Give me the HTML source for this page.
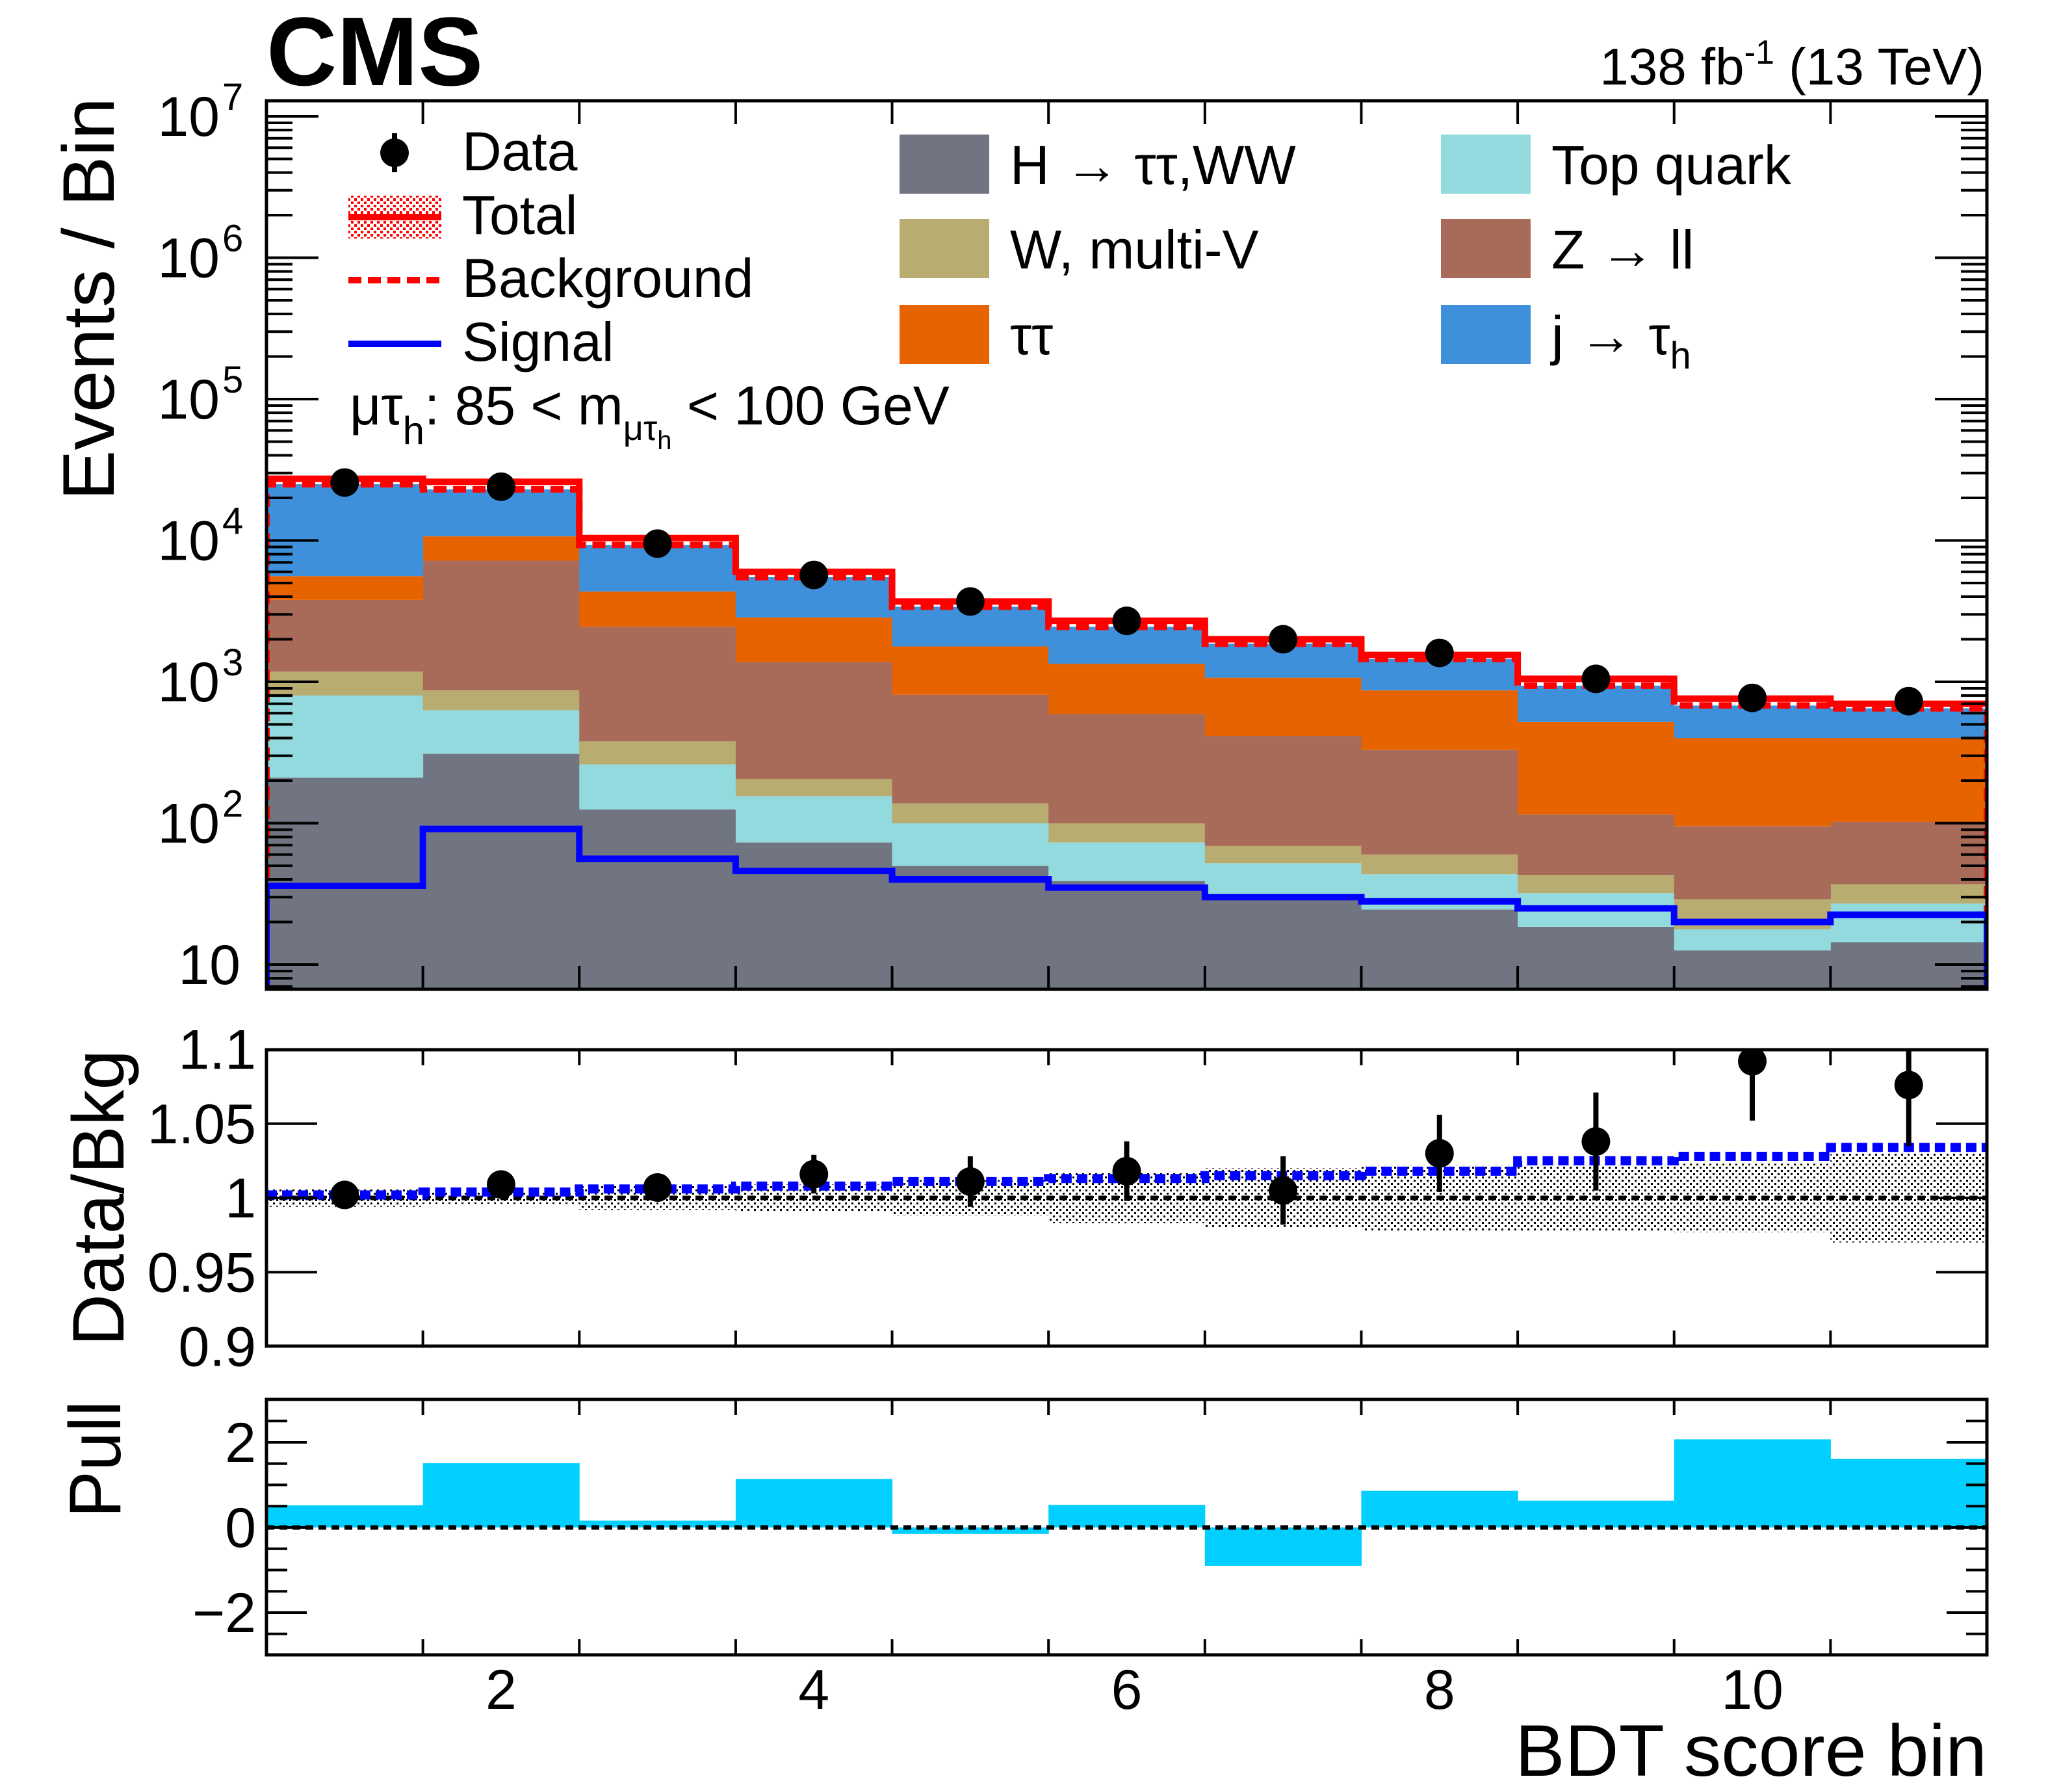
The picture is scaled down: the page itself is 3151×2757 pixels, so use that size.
<!DOCTYPE html>
<html><head><meta charset="utf-8"><style>
html,body{margin:0;padding:0;background:#fff}
svg{display:block;font-family:"Liberation Sans",Arial,sans-serif}
</style></head><body>
<svg id="c" width="3151" height="2757" viewBox="0 0 3151 2757" xmlns="http://www.w3.org/2000/svg">
<defs>
<pattern id="dots" width="10" height="10" patternUnits="userSpaceOnUse"><rect x="0" y="0" width="3" height="3" fill="#000"/><rect x="5" y="5" width="3" height="3" fill="#000"/></pattern>
<pattern id="rdots" width="10" height="10" patternUnits="userSpaceOnUse"><rect x="0" y="0" width="4" height="4" fill="#f00"/><rect x="5" y="5" width="4" height="4" fill="#f00"/></pattern>
<clipPath id="cm"><rect x="410" y="155" width="2647" height="1367"/></clipPath>
<clipPath id="cr"><rect x="410" y="1615" width="2647" height="456"/></clipPath>
<clipPath id="cp"><rect x="410" y="2153" width="2647" height="393"/></clipPath>
</defs>
<g id="main" clip-path="url(#cm)"></g>
<g id="ratio" clip-path="url(#cr)"></g>
<g id="pull" clip-path="url(#cp)"></g>
<g id="axes"></g>
<text x="410" y="131" font-size="150" font-weight="bold">CMS</text>
<text x="3053" y="130" font-size="80" text-anchor="end">138 fb<tspan dy="-32" font-size="52">-1</tspan><tspan dy="32"> (13 TeV)</tspan></text>
<text transform="translate(175,150) rotate(-90)" font-size="112" text-anchor="end" textLength="620" lengthAdjust="spacingAndGlyphs">Events / Bin</text>
<text transform="translate(190,2071) rotate(-90)" font-size="112" textLength="456" lengthAdjust="spacingAndGlyphs">Data/Bkg</text>
<text transform="translate(185,2335) rotate(-90)" font-size="112" textLength="180" lengthAdjust="spacingAndGlyphs">Pull</text>
<text x="3057" y="2732" font-size="112" text-anchor="end" textLength="726" lengthAdjust="spacingAndGlyphs">BDT score bin</text>
<g id="legend" font-size="84">
<g><line x1="607" y1="205" x2="607" y2="265" stroke="#000" stroke-width="8"/><circle cx="607" cy="235" r="22"/><text x="711" y="262">Data</text></g>
<g><rect x="536" y="301" width="143" height="66" fill="url(#rdots)"/><line x1="536" y1="334" x2="679" y2="334" stroke="#f00" stroke-width="10"/><text x="711" y="360">Total</text></g>
<g><line x1="536" y1="431" x2="679" y2="431" stroke="#f00" stroke-width="10" stroke-dasharray="20,10"/><text x="711" y="457">Background</text></g>
<g><line x1="536" y1="529" x2="679" y2="529" stroke="#00f" stroke-width="10"/><text x="711" y="555">Signal</text></g>
<text x="538" y="653">μτ<tspan dy="30" font-size="60">h</tspan><tspan dy="-30">: 85 &lt; m</tspan><tspan dy="24" font-size="54">μτ</tspan><tspan dy="14" font-size="40">h</tspan><tspan dy="-38"> &lt; 100 GeV</tspan></text>
</g>
<script>
const bins=[1,2,3,4,5,6,7,8,9,10,11];
const dataVals=[25700,24000,9500,5700,3700,2700,2000,1600,1050,770,730];
const hVals=[210,310,125,73,50,39,29,24.5,18.5,12.6,14.4];
const topVals=[590,320,135,82,50,34,23,19,13.5,5.2,12.6];
const wvVals=[380,240,120,50,38,27,17,16.5,11,11.2,10];
const zllVals=[2620,6330,2070,1175,672,490,346,270,72,66,65];
const ttVals=[1800,3500,1900,1470,970,750,655,540,405,305,298];
const jtVals=[19400,12300,4950,2650,1620,1110,790,580,420,280,250];
const totalVals=[27300,26000,10400,6000,3700,2700,2000,1550,1050,760,700];
const sigVals=[36,91,56,46,40,35,30,28,25,20,22.5];
const ratioVals=[1.002,1.009,1.007,1.016,1.011,1.018,1.005,1.030,1.038,1.092,1.076];
const ratioErr=[0.003,0.005,0.008,0.013,0.017,0.02,0.023,0.026,0.033,0.04,0.041];
const sbRatio=[1.002,1.004,1.006,1.008,1.011,1.013,1.015,1.018,1.025,1.028,1.034];
const bandUnc=[0.006,0.004,0.008,0.009,0.012,0.017,0.02,0.022,0.022,0.023,0.030];
const pullVals=[0.52,1.51,0.16,1.14,-0.15,0.53,-0.90,0.86,0.63,2.07,1.61];
const xTicks=[2,4,6,8,10];
const ratioTicks=[0.9,0.95,1,1.05,1.1];
const ratioTickLabels=["0.9","0.95","1","1.05","1.1"];
const pullTicks=[-2,0,2];
const pullTickLabels=["\u22122","0","2"];
const logTicks=[1,2,3,4,5,6,7];

const X0=410,X1=3057;
const xS=v=>X0+(v-0.5)*(X1-X0)/11;
const yM=v=>1484-(Math.log10(v)-1)*217.5;
const yR=v=>1843-(v-1)*2285;
const yP=v=>2350-v*65.5;
const NS="http://www.w3.org/2000/svg";
function mk(tag,at,parent){const e=document.createElementNS(NS,tag);for(const k in at)e.setAttribute(k,at[k]);parent.appendChild(e);return e;}
const gM=document.getElementById('main'),gR=document.getElementById('ratio'),gP=document.getElementById('pull'),gA=document.getElementById('axes');

const layers=[["h",hVals,"#717581"],["top",topVals,"#92dadd"],["wv",wvVals,"#b9ac70"],["zll",zllVals,"#a96b59"],["tt",ttVals,"#e76300"],["jt",jtVals,"#3f90da"]];
const cum=bins.map(()=>0);
layers.forEach(([nm,arr,col])=>{
  bins.forEach((b,i)=>{
    const lo=cum[i];const hi=lo+arr[i];
    const yb=lo>0?yM(lo):1530;
    const r=mk('rect',{x:xS(b-0.5),y:yM(hi),width:xS(b+0.5)-xS(b-0.5)+0.5,height:yb-yM(hi),fill:col},gM);
    
    
    cum[i]=hi;
  });
});
function step(vals,yf){let d='';bins.forEach((b,i)=>{d+=(i?'L':'M')+xS(b-0.5)+','+yf(vals[i])+'L'+xS(b+0.5)+','+yf(vals[i]);});return d;}
const bkg=mk('path',{d:'M'+xS(0.5)+',1530L'+step(cum,yM).slice(1)+'L'+xS(11.5)+',1530',fill:'none',stroke:'#f00','stroke-width':10,'stroke-dasharray':'20,10'},gM);


const tot=mk('path',{d:step(totalVals,yM),fill:'none',stroke:'#f00','stroke-width':10},gM);


const sig=mk('path',{d:'M'+xS(0.5)+',1530L'+step(sigVals,yM).slice(1)+'L'+xS(11.5)+',1530',fill:'none',stroke:'#00f','stroke-width':10},gM);


bins.forEach((b,i)=>{
  const c=mk('circle',{cx:xS(b),cy:yM(dataVals[i]),r:22,fill:'#000'},gM);
  
  
});

bins.forEach((b,i)=>{
  const r=mk('rect',{x:xS(b-0.5),y:yR(1+bandUnc[i]),width:xS(b+0.5)-xS(b-0.5),height:yR(1-bandUnc[i])-yR(1+bandUnc[i]),fill:'url(#dots)'},gR);
  
  
});
const l1=mk('line',{x1:X0,x2:X1,y1:yR(1),y2:yR(1),stroke:'#000','stroke-width':7,'stroke-dasharray':'12,8'},gR);


const sb=mk('path',{d:step(sbRatio,yR),fill:'none',stroke:'#00f','stroke-width':14,'stroke-dasharray':'16,8'},gR);


bins.forEach((b,i)=>{
  const e=mk('line',{x1:xS(b),x2:xS(b),y1:yR(ratioVals[i]+ratioErr[i]),y2:yR(ratioVals[i]-ratioErr[i]),stroke:'#000','stroke-width':8},gR);
  
  
  const c=mk('circle',{cx:xS(b),cy:yR(ratioVals[i]),r:22,fill:'#000'},gR);
  
  
});

bins.forEach((b,i)=>{
  const v=pullVals[i];
  const r=mk('rect',{x:xS(b-0.5),y:Math.min(yP(v),yP(0)),width:xS(b+0.5)-xS(b-0.5)+0.5,height:Math.abs(yP(v)-yP(0)),fill:'#00cfff'},gP);
  
  
});
const l0=mk('line',{x1:X0,x2:X1,y1:yP(0),y2:yP(0),stroke:'#000','stroke-width':7,'stroke-dasharray':'12,8'},gP);



const panels=[[155,1522,'main-frame'],[1615,2071,'ratio-frame'],[2153,2546,'pull-frame']];
panels.forEach(([t,b,n])=>{
  const f=mk('rect',{x:X0,y:t,width:X1-X0,height:b-t,fill:'none',stroke:'#000','stroke-width':5},gA);
  
  
  for(let k=1;k<11;k++){const x=xS(k+0.5);
    const tl=(n==='main-frame')?36:24;
    mk('line',{x1:x,x2:x,y1:t,y2:t+tl,stroke:'#000','stroke-width':4},gA);
    mk('line',{x1:x,x2:x,y1:b,y2:b-tl,stroke:'#000','stroke-width':4},gA);}
});
for(let d=0;d<=7;d++){for(let m=1;m<10;m++){const v=Math.pow(10,d)*m;const y=yM(v);if(y<157||y>1520)continue;const L=m===1?80:40;
  mk('line',{x1:X0,x2:X0+L,y1:y,y2:y,stroke:'#000','stroke-width':4},gA);
  mk('line',{x1:X1,x2:X1-L,y1:y,y2:y,stroke:'#000','stroke-width':4},gA);}}
logTicks.forEach(p=>{const y=yM(Math.pow(10,p));
  const t=mk('text',{x:p===1?370:338,y:y+30,'font-size':86,'text-anchor':'end'},gA);
  t.textContent='10';
  
  
  if(p>1){const s=mk('text',{x:342,y:y-10,'font-size':58},gA);s.textContent=String(p);}
});
ratioTicks.forEach((v,i)=>{const y=yR(v);
  mk('line',{x1:X0,x2:X0+78,y1:y,y2:y,stroke:'#000','stroke-width':4},gA);
  mk('line',{x1:X1,x2:X1-78,y1:y,y2:y,stroke:'#000','stroke-width':4},gA);
  const t=mk('text',{x:394,y:y+30,'font-size':86,'text-anchor':'end'},gA);
  t.textContent=ratioTickLabels[i];
  
  
});
for(let v=-3;v<=3;v+=0.5){const y=yP(v);const L=(v%2===0)?62:32;
  mk('line',{x1:X0,x2:X0+L,y1:y,y2:y,stroke:'#000','stroke-width':4},gA);
  mk('line',{x1:X1,x2:X1-L,y1:y,y2:y,stroke:'#000','stroke-width':4},gA);}
pullTicks.forEach((v,i)=>{const t=mk('text',{x:394,y:yP(v)+30,'font-size':86,'text-anchor':'end'},gA);
  t.textContent=pullTickLabels[i];
  
  
});
xTicks.forEach(v=>{const t=mk('text',{x:xS(v),y:2629,'font-size':86,'text-anchor':'middle'},gA);
  t.textContent=String(v);
  
  
});

const L=document.getElementById('legend');
const legItems=[["H \u2192 \u03c4\u03c4,WW","#717581",1384,207],["W, multi-V","#b9ac70",1384,337],["\u03c4\u03c4","#e76300",1384,469],["Top quark","#92dadd",2217,207],["Z \u2192 ll","#a96b59",2217,337],["j \u2192 \u03c4","#3f90da",2217,469]];
legItems.forEach(([lab,col,x,y],i)=>{
  const g=mk('g',{},L);
  
  
  mk('rect',{x:x,y:y,width:138,height:91,fill:col},g);
  const t=mk('text',{x:x+170,y:y+76},g);t.textContent=lab;
  if(i===5){const s=mk('tspan',{dy:22,'font-size':58},t);s.textContent='h';}
});
</script>
</svg>
</body></html>
